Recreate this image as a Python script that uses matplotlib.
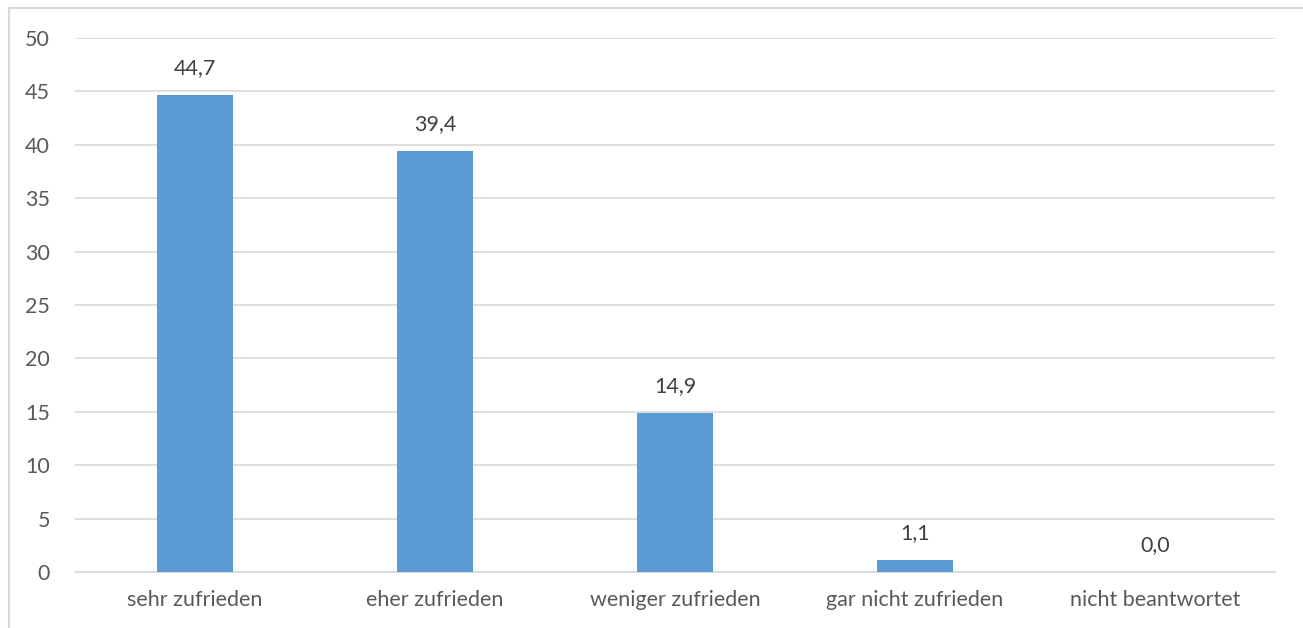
import matplotlib.pyplot as plt
import numpy as np

categories = ['sehr zufrieden', 'eher zufrieden', 'weniger zufrieden',
              'gar nicht zufrieden', 'nicht beantwortet']
values = [44.7, 39.4, 14.9, 1.1, 0.0]
y_ticks = [0, 5, 10, 15, 20, 25, 30, 35, 40, 45, 50]

plt.rcParams['font.family'] = ['Lato', 'DejaVu Sans']
text_col = '#595959'
grid_col = '#D9D9D9'

fig = plt.figure(figsize=(13.03, 6.28), dpi=100)
ax = fig.add_axes([75 / 1303, 1 - 572 / 628, 1200 / 1303, (572 - 38) / 628])

x = np.arange(len(categories))
bars = ax.bar(x, values, width=0.32, color='#5B9BD5', zorder=3)

for xi, v in zip(x, values):
    ax.annotate(f'{v:.1f}'.replace('.', ','), (xi, v), xytext=(0, 12),
                textcoords='offset points', ha='center', va='bottom',
                fontsize=15.5, color='#404040')

ax.set_xlim(-0.5, len(categories) - 0.5)
ax.set_ylim(0, 50)
ax.set_yticks(y_ticks)
ax.set_xticks(x)
ax.set_xticklabels(categories)
ax.grid(axis='y', color=grid_col, linewidth=1.2, zorder=0)
for s in ['top', 'right', 'left']:
    ax.spines[s].set_visible(False)
ax.spines['bottom'].set_color(grid_col)
ax.spines['bottom'].set_linewidth(1.2)
ax.tick_params(length=0, labelsize=15.5, colors=text_col)
ax.tick_params(axis='y', pad=18)
ax.tick_params(axis='x', pad=13)

# outer chart frame
fig.add_artist(plt.Line2D([9 / 1303, 9 / 1303], [0, 1 - 8 / 628],
                          transform=fig.transFigure, color=grid_col, lw=1.5))
fig.add_artist(plt.Line2D([9 / 1303, 1], [1 - 8 / 628, 1 - 8 / 628],
                          transform=fig.transFigure, color=grid_col, lw=1.5))

fig.savefig('out.png', dpi=100)
